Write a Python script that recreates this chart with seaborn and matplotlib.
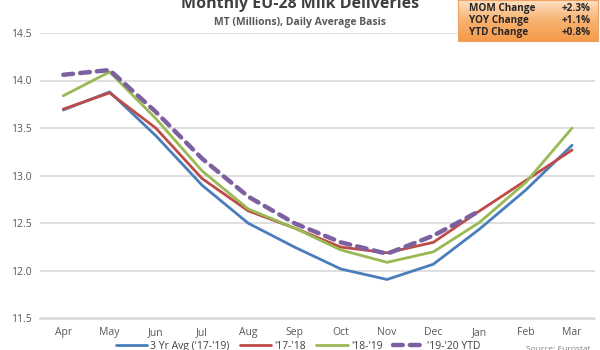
import numpy as np
import pandas as pd
import matplotlib as mpl
import matplotlib.pyplot as plt
import seaborn as sns

months = ['Apr', 'May', 'Jun', 'Jul', 'Aug', 'Sep', 'Oct', 'Nov', 'Dec', 'Jan', 'Feb', 'Mar']
avg_3yr = [13.69, 13.88, 13.42, 12.90, 12.50, 12.25, 12.02, 11.91, 12.07, 12.44, 12.85, 13.32]
y17_18 = [13.70, 13.87, 13.50, 12.97, 12.63, 12.45, 12.25, 12.19, 12.30, 12.63, 12.95, 13.27]
y18_19 = [13.84, 14.09, 13.60, 13.05, 12.65, 12.45, 12.22, 12.09, 12.20, 12.51, 12.93, 13.50]
y19_20 = [14.06, 14.11, 13.67, 13.18, 12.78, 12.50, 12.30, 12.18, 12.37, 12.63, np.nan, np.nan]

series_names = ["3 Yr Avg ('17-'19)", "'17-'18", "'18-'19", "'19-'20 YTD"]
series_vals = [avg_3yr, y17_18, y18_19, y19_20]
colors = ['#4A7EBB', '#BE4B48', '#98B954', '#7D60A0']

box_labels = ['MOM Change', 'YOY Change', 'YTD Change']
box_values = ['+2.3%', '+1.1%', '+0.8%']

sns.set_style('white')
plt.rcParams['font.family'] = ['Open Sans', 'DejaVu Sans']

fig = plt.figure(figsize=(6, 3.5), dpi=100)
ax = fig.add_axes([0.067, 0.09, 0.925, 0.816])

for name, vals, c in zip(series_names, series_vals, colors):
    df = pd.DataFrame({'Month': months, 'Value': vals}).dropna()
    dashed = name.endswith('YTD')
    sns.lineplot(data=df, x='Month', y='Value', ax=ax, color=c, sort=False,
                 linewidth=3.2 if dashed else 2.0,
                 linestyle=(0, (2.2, 1.6)) if dashed else '-',
                 dash_capstyle='round', label=name)

ax.set_xlim(-0.5, 11.5)
ax.set_ylim(11.5, 14.5)
ax.set_yticks(np.arange(11.5, 14.51, 0.5))
ax.yaxis.set_major_formatter(mpl.ticker.FormatStrFormatter('%.1f'))
ax.grid(axis='y', color='#D9D9D9', linewidth=1.2)
ax.set_axisbelow(True)
for s in ['top', 'right', 'left']:
    ax.spines[s].set_visible(False)
ax.spines['bottom'].set_color('#D9D9D9')
ax.spines['bottom'].set_linewidth(1.2)
ax.tick_params(axis='both', labelsize=7.5, labelcolor='#595959', length=0, pad=6)
ax.set_xlabel('')
ax.set_ylabel('')

ax.legend(loc='center', bbox_to_anchor=(0.465, -0.097), ncol=4, frameon=False,
          fontsize=7.5, handlelength=3.0, columnspacing=1.0, labelcolor='#404040',
          handletextpad=0.3, borderpad=0.0)

fig.text(0.50, 0.99, 'Monthly EU-28 Milk Deliveries', ha='center', va='center',
         fontsize=11.5, fontweight='bold', color='#404040')
fig.text(0.50, 0.935, 'MT (Millions), Daily Average Basis', ha='center', va='center',
         fontsize=7.5, fontweight='bold', color='#595959')
fig.text(0.985, 0.002, 'Source: Eurostat', ha='right', va='center', fontsize=6, color='#7F7F7F')

# orange summary box
bx = fig.add_axes([458/600, 1 - 41/350, 140/600, 41/350])
grad = np.linspace(0, 1, 50).reshape(-1, 1)
cmap = mpl.colors.LinearSegmentedColormap.from_list('o', ['#FDE0C2', '#F8B270', '#F59B4A'])
bx.imshow(grad, aspect='auto', cmap=cmap, extent=(0, 1, 0, 1), origin='upper')
bx.set_xlim(0, 1)
bx.set_ylim(0, 1)
bx.set_xticks([])
bx.set_yticks([])
for s in bx.spines.values():
    s.set_color('#F0A060')
for i, (lab, val) in enumerate(zip(box_labels, box_values)):
    yy = 0.80 - i * 0.30
    bx.text(0.08, yy, lab, ha='left', va='center', fontsize=7.2, fontweight='bold', color='#262626')
    bx.text(0.95, yy, val, ha='right', va='center', fontsize=7.2, fontweight='bold', color='#262626')

fig.savefig('out.png', dpi=100)
